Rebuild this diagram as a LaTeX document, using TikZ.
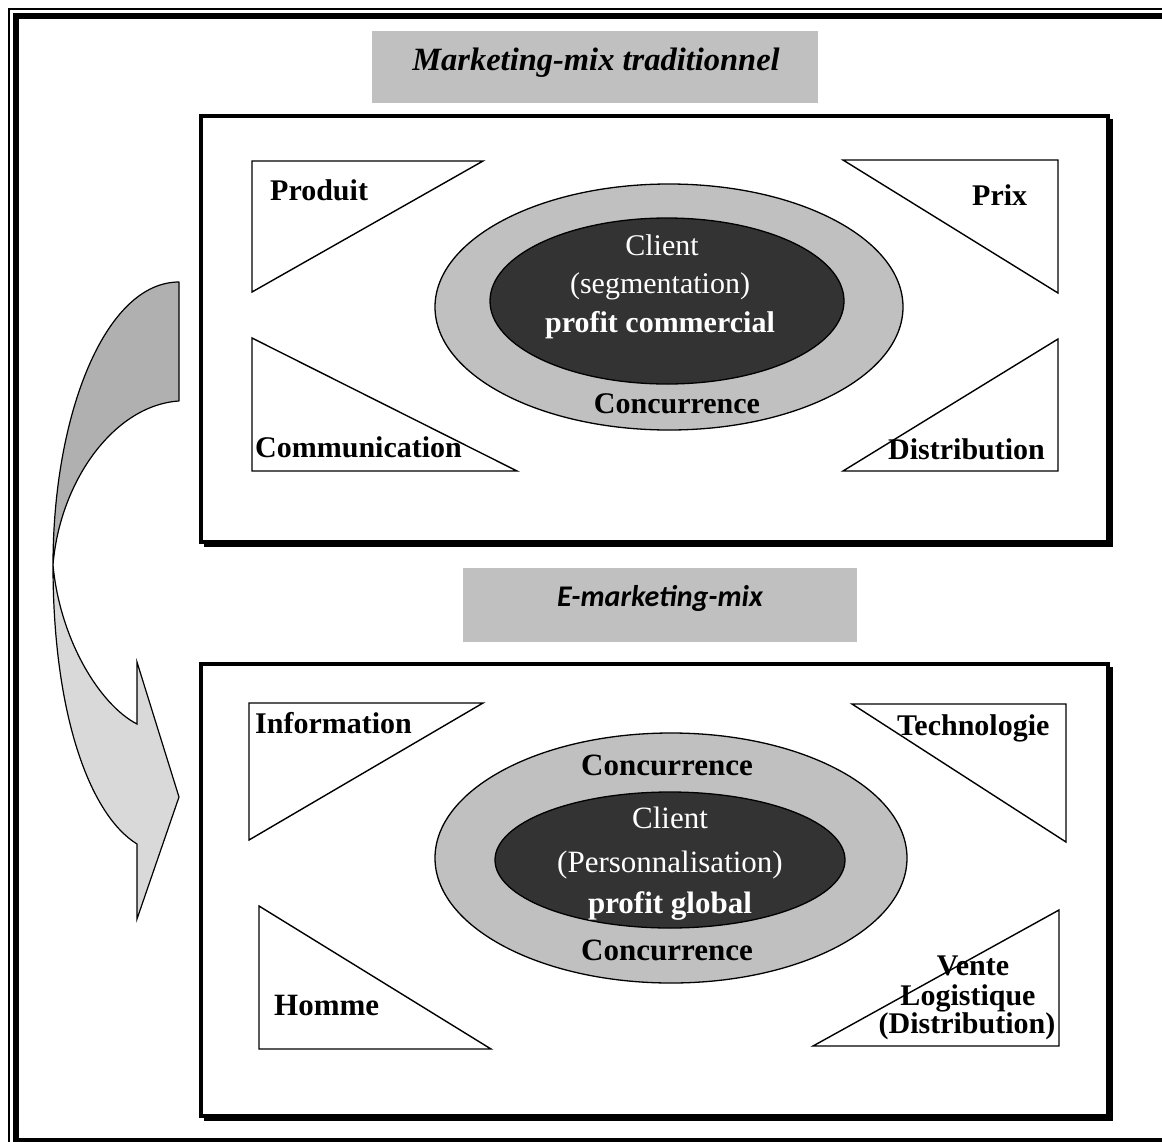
\documentclass[tikz,border=0pt]{standalone}
\usepackage{fontspec}
\setmainfont{Liberation Serif}
\newfontfamily\calfont{Carlito}
\definecolor{titlegray}{RGB}{192,192,192}
\definecolor{ringgray}{RGB}{192,192,192}
\definecolor{coredark}{RGB}{51,51,51}
\definecolor{arrowdark}{RGB}{176,176,176}
\definecolor{arrowlight}{RGB}{217,217,217}
\begin{document}
\begin{tikzpicture}[x=1pt,y=-1pt,
  lbl/.style={font=\fontsize{30}{34}\selectfont\bfseries, inner sep=0pt},
  lblbig/.style={font=\fontsize{31}{35}\selectfont\bfseries, inner sep=0pt},
  wreg/.style={font=\fontsize{30}{34}\selectfont, text=white, inner sep=0pt},
  wbig/.style={font=\fontsize{31}{35}\selectfont, text=white, inner sep=0pt},
  tri/.style={draw=black, line width=1.4pt, fill=white, line join=miter},
  panel/.style={draw=black, line width=4.5pt},
  panelshadow/.style={draw=black, line width=4.5pt},
  titlebox/.style={fill=titlegray}]
\useasboundingbox (0,0) rectangle (1162,1141);
\clip (0,0) rectangle (1162,1141);
\fill[white] (0,0) rectangle (1162,1141);

% page frame: thin outer rule and thick inner rule
\draw[line width=1.4pt] (9,9) rectangle (1180,1160);
\draw[line width=5.5pt] (16,16) rectangle (1172,1141);

% ---- titles ----
\fill[titlebox] (372,31) rectangle (818,103);
\node[font=\fontsize{32.5}{36}\selectfont\bfseries\itshape, inner sep=0pt, anchor=base] (t1) at (596,70) {Marketing-mix traditionnel};
\fill[titlebox] (463,568) rectangle (857,642);
\node[font=\fontsize{30}{34}\selectfont\calfont\bfseries\itshape, inner sep=0pt, anchor=base] (t2) at (660,606) {E-marketing-mix};

% ---- upper panel ----
\draw[panelshadow] (1110.5,118.5) -- (1110.5,544.5) -- (203.5,544.5);
\draw[panel] (201,116) rectangle (1108,542);

\draw[tri] (252,161) -- (483,161) -- (252,292) -- cycle;
\draw[tri] (252,338) -- (252,471) -- (517,471) -- cycle;
\draw[tri] (843,160) -- (1058,160) -- (1058,293) -- cycle;
\draw[tri] (1058,339) -- (1058,471) -- (843,471) -- cycle;

\filldraw[fill=ringgray, draw=black, line width=1.3pt] (669,307) ellipse [x radius=234pt, y radius=123pt];
\filldraw[fill=coredark, draw=black, line width=1.3pt] (667,301) ellipse [x radius=177pt, y radius=83pt];

\node[lbl, anchor=base west] (produit) at (270,200) {Produit};
\node[lbl, anchor=base west] (comm) at (255,457) {Communication};
\node[lbl, anchor=base west] (prix) at (972,205) {Prix};
\node[lbl, anchor=base west] (distr) at (888,459) {Distribution};

\node[wreg, anchor=base] (client1) at (662,255) {Client};
\node[wreg, anchor=base] (segm) at (660,293) {(segmentation)};
\node[wbig, font=\fontsize{30}{34}\selectfont\bfseries, anchor=base] (profc) at (660,332) {profit commercial};
\node[lbl, anchor=base] (conc1) at (677,413) {Concurrence};

% ---- lower panel ----
\draw[panelshadow] (1110.5,666.5) -- (1110.5,1118.5) -- (203.5,1118.5);
\draw[panel] (201,664) rectangle (1108,1116);

\draw[tri] (249,703) -- (483,703) -- (249,840) -- cycle;
\draw[tri] (852,704) -- (1066,704) -- (1066,842) -- cycle;
\draw[tri] (259,906) -- (259,1049) -- (491,1049) -- cycle;
\draw[tri] (1059,910) -- (1059,1046) -- (813,1046) -- cycle;

\filldraw[fill=ringgray, draw=black, line width=1.3pt] (671,858) ellipse [x radius=236pt, y radius=125pt];
\filldraw[fill=coredark, draw=black, line width=1.3pt] (670,860) ellipse [x radius=175pt, y radius=68pt];

\node[lbl, anchor=base west] (info) at (255,733) {Information};
\node[lbl, anchor=base west] (techno) at (897,735) {Technologie};
\node[lblbig, anchor=base west] (homme) at (274,1015) {Homme};
\node[lbl, anchor=base] (vente) at (973,975) {Vente};
\node[lbl, anchor=base] (logis) at (968,1005) {Logistique};
\node[lbl, anchor=base] (distr2) at (967,1033) {(Distribution)};

\node[lblbig, anchor=base] (conc2) at (667,775) {Concurrence};
\node[wbig, anchor=base] (client2) at (670,828) {Client};
\node[wbig, anchor=base] (perso) at (670,872) {(Personnalisation)};
\node[wbig, font=\fontsize{31}{35}\selectfont\bfseries, anchor=base] (profg) at (670,913) {profit global};
\node[lblbig, anchor=base] (conc3) at (667,960) {Concurrence};

% ---- curved arrow from the upper to the lower panel ----
\filldraw[fill=arrowdark, draw=black, line width=1.2pt, line join=round]
  (179,282) .. controls (105,282) and (53,415) .. (53,565)
  .. controls (60,480) and (115,405) .. (179,401) -- cycle;
\filldraw[fill=arrowlight, draw=black, line width=1.2pt, line join=miter]
  (53,565) .. controls (53,715) and (90,815) .. (137,844)
  -- (137,919) -- (179,797) -- (137,662) -- (137,724)
  .. controls (100,705) and (60,640) .. (53,565) -- cycle;
\end{tikzpicture}
\end{document}
